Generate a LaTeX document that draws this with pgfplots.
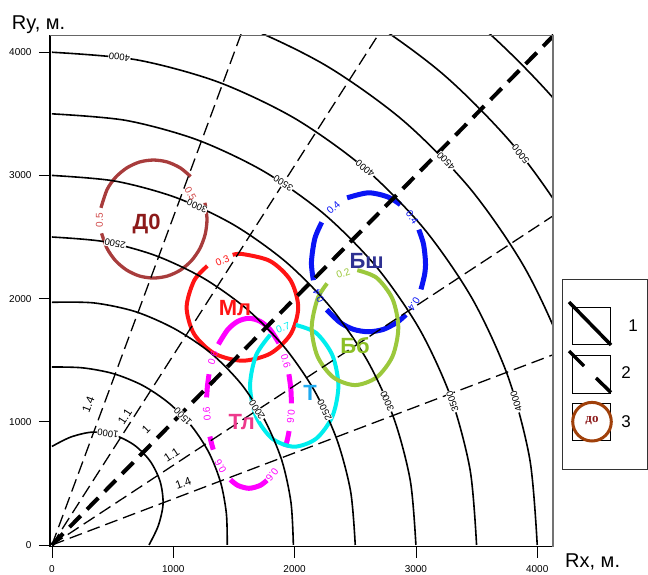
\documentclass[border=0pt]{standalone}
\usepackage{fontspec}
\setmainfont{Liberation Sans}
\newfontfamily\lserif{Liberation Serif}
\usepackage{pgfplots}
\pgfplotsset{compat=1.18}
\definecolor{cD}{HTML}{A83C3C}
\definecolor{cDt}{HTML}{8C1A1A}
\definecolor{cDl}{HTML}{D04848}
\definecolor{cM}{HTML}{FF1414}
\definecolor{cTl}{HTML}{FF00FF}
\definecolor{cTlt}{HTML}{EE3A8C}
\definecolor{cT}{HTML}{00EEEE}
\definecolor{cTt}{HTML}{1EAAF0}
\definecolor{cBsh}{HTML}{0A14F5}
\definecolor{cBsht}{HTML}{2E3192}
\definecolor{cBb}{HTML}{9BC83C}
\definecolor{cBbt}{HTML}{8CBF26}
\definecolor{legbrown}{HTML}{A0400A}
\tikzset{
  cont/.style={black, line width=1.6pt, smooth},
  ray/.style={black, line width=1.3pt, dash pattern=on 13pt off 6pt},
  clab/.style={fill=white, inner sep=0.5pt, font=\fontsize{9.5}{10}\selectfont},
  elab/.style={inner sep=0.5pt, font=\fontsize{10}{11}\selectfont},
  rlab/.style={inner sep=0.5pt, font=\fontsize{11.5}{12}\selectfont},
  big/.style={inner sep=0pt, font=\fontsize{22}{24}\selectfont\bfseries},
}
\begin{document}
\begin{tikzpicture}[x=1pt,y=1pt]
\useasboundingbox (-50,546.7) rectangle (598,-27.3);
\clip (-50,546.7) rectangle (598,-27.3);
\begin{axis}[
  anchor=south west,
  scale only axis, width=503pt, height=511.7pt,
  xmin=-16, xmax=4130, ymin=-14, ymax=4140,
  axis lines*=left,
  axis line style={black, line width=1.1pt},
  xtick={0,1000,2000,3000,4000}, xticklabels={0,1000,2000,3000,4000},
  ytick={0,1000,2000,3000,4000}, yticklabels={0,1000,2000,3000,4000},
  tick align=outside, major tick length=11pt,
  tick style={black, line width=0.8pt},
  ticklabel style={font=\fontsize{10}{11}\selectfont},
  xticklabel style={yshift=-4pt},
  yticklabel style={xshift=-4pt},
  clip=true,
]
% ---- coloured ellipses ----
% D0
\addplot[cD, line width=3.3pt, smooth] coordinates {(1143,2991) (1058,3061) (951,3109) (837,3125) (723,3109) (617,3061) (525,2985) (455,2886) (404,2737)};
\addplot[cD, line width=3.3pt, smooth] coordinates {(409,2530) (455,2406) (525,2307) (617,2231) (723,2183) (837,2167) (951,2183) (1058,2231) (1149,2307) (1219,2406) (1263,2522) (1278,2646) (1261,2778)};
% Ml
\addplot[cM, line width=4pt, smooth] coordinates {(1281,2265) (1172,2146) (1110,1929) (1172,1712) (1340,1554) (1570,1496) (1800,1554) (1968,1712) (2030,1929) (1968,2146) (1800,2304) (1570,2362) (1490,2355)};
% Tl
\addplot[cTl, line width=5pt, smooth] coordinates {(1871,1638) (1799,1748) (1715,1816) (1624,1840) (1533,1816) (1449,1748) (1372,1629)};
\addplot[cTl, line width=5pt, smooth] coordinates {(1295,1386) (1282,1293) (1275,1198)};
\addplot[cTl, line width=5pt, smooth] coordinates {(1302,880) (1315,826) (1330,774)};
\addplot[cTl, line width=5pt, smooth] coordinates {(1471,530) (1533,483) (1624,460) (1715,483) (1772,525)};
\addplot[cTl, line width=5pt, smooth] coordinates {(1924,795) (1941,858) (1955,925)};
\addplot[cTl, line width=5pt, smooth] coordinates {(1974,1150) (1969,1270) (1953,1386)};
% T
\addplot[cT, line width=4pt, smooth] coordinates {(1799,1706) (1682,1539) (1633,1292) (1682,1045) (1815,864) (1997,798) (2179,864) (2312,1045) (2361,1292) (2312,1539) (2179,1720) (2010,1786)};
% Bsh
\addplot[cBsh, line width=5pt, smooth] coordinates {(2872,2763) (2770,2825) (2609,2859) (2433,2818)};
\addplot[cBsh, line width=5pt, smooth] coordinates {(2224,2619) (2167,2488) (2139,2295) (2155,2149)};
\addplot[cBsh, line width=5pt, smooth] coordinates {(2265,1910) (2374,1807) (2487,1750) (2609,1731) (2731,1750) (2844,1807) (2917,1869)};
\addplot[cBsh, line width=5pt, smooth] coordinates {(3042,2075) (3072,2197) (3079,2295) (3063,2441) (3024,2560)};
% Bb
\addplot[cBb, line width=4pt, smooth] coordinates {(2268,2123) (2189,1998) (2141,1765) (2189,1531) (2319,1361) (2498,1298) (2676,1361) (2807,1531) (2855,1765) (2807,1998) (2676,2169) (2517,2231)};
% ---- contour arcs ----
\addplot[cont] coordinates {(800,0) (876,155) (916,333) (892,515) (810,680) (680,810) (515,892) (333,916) (155,876) (0,800)};
\addplot[cont] coordinates {(1445,0) (1438,253) (1391,506) (1295,748) (1151,965) (965,1151) (748,1295) (506,1391) (253,1438) (0,1445)};
\addplot[cont] coordinates {(1990,0) (1970,347) (1894,689) (1754,1013) (1559,1308) (1308,1559) (1013,1754) (689,1894) (346,1965) (0,1970)};
\addplot[cont] coordinates {(2500,0) (2462,434) (2349,855) (2165,1250) (1915,1607) (1607,1915) (1250,2165) (855,2349) (434,2462) (0,2500)};
\addplot[cont] coordinates {(3000,0) (2954,521) (2819,1026) (2598,1500) (2298,1928) (1928,2298) (1500,2598) (1026,2819) (521,2954) (0,3000)};
\addplot[cont] coordinates {(3500,0) (3447,608) (3289,1197) (3031,1750) (2681,2250) (2250,2681) (1750,3031) (1197,3289) (608,3447) (0,3500)};
\addplot[cont] coordinates {(4000,0) (3939,695) (3759,1368) (3464,2000) (3064,2571) (2571,3064) (2000,3464) (1368,3759) (695,3939) (0,4000)};
\addplot[cont] coordinates {(4500,0) (4432,781) (4229,1539) (3897,2250) (3447,2893) (2893,3447) (2250,3897) (1539,4229) (781,4432) (0,4500)};
\addplot[cont] coordinates {(5000,0) (4924,868) (4698,1710) (4330,2500) (3830,3214) (3214,3830) (2500,4330) (1710,4698) (868,4924) (0,5000)};
\addplot[cont] coordinates {(5500,0) (5416,955) (5168,1881) (4763,2750) (4213,3535) (3535,4213) (2750,4763) (1881,5168) (955,5416) (0,5500)};
% ---- rays ----
\addplot[ray] coordinates {(0,0) (2111,5617)};
\addplot[ray] coordinates {(0,0) (3268,5032)};
\addplot[ray] coordinates {(0,0) (5038,3259)};
\addplot[ray] coordinates {(0,0) (5620,2101)};
\addplot[black, line width=4pt, dash pattern=on 16pt off 9pt] coordinates {(0,0) (5000,5000)};
% ---- contour labels ----
\node[clab, rotate=172] at (axis cs:557,3961) {4000};
\node[clab, rotate=147] at (axis cs:1906,2935) {3500};
\node[clab, rotate=156] at (axis cs:1196,2751) {3000};
\node[clab, rotate=168] at (axis cs:520,2445) {2500};
\node[clab, rotate=123] at (axis cs:1690,1097) {2000};
\node[clab, rotate=134] at (axis cs:1079,1042) {1500};
\node[clab, rotate=172] at (axis cs:461,904) {1000};
\node[clab, rotate=116] at (axis cs:2247,1096) {2500};
\node[clab, rotate=113] at (axis cs:2763,1167) {3000};
\node[clab, rotate=109] at (axis cs:3301,1163) {3500};
\node[clab, rotate=107] at (axis cs:3827,1163) {4000};
\node[clab, rotate=140] at (axis cs:2581,3055) {4000};
\node[clab, rotate=134] at (axis cs:3248,3115) {4500};
\node[clab, rotate=129] at (axis cs:3863,3173) {5000};
% ---- ray labels ----
\node[rlab, rotate=69] at (axis cs:300,1136) {1.4};
\node[rlab, rotate=57] at (axis cs:602,1041) {1.1};
\node[rlab, rotate=45] at (axis cs:775,939) {1};
\node[rlab, rotate=33] at (axis cs:987,730) {1.1};
\node[rlab, rotate=20] at (axis cs:1083,501) {1.4};
% ---- ellipse value labels ----
\node[elab, text=cDl, rotate=90] at (axis cs:392,2636) {0.5};
\node[elab, text=cDl, rotate=-60] at (axis cs:1142,2850) {0.5};
\node[elab, text=cM, rotate=23] at (axis cs:1405,2305) {0.3};
\node[elab, text=cTl, rotate=-74] at (axis cs:1927,1495) {0.6};
\node[elab, text=cTl, rotate=72] at (axis cs:1327,1516) {0.6};
\node[elab, text=cTl, rotate=94] at (axis cs:1277,1066) {0.6};
\node[elab, text=cTl, rotate=119] at (axis cs:1390,637) {0.6};
\node[elab, text=cTl, rotate=-128] at (axis cs:1815,571) {0.6};
\node[elab, text=cTl, rotate=-95] at (axis cs:1970,1042) {0.6};
\node[elab, text=cT, rotate=20] at (axis cs:1905,1760) {0.7};
\node[elab, text=cBsh, rotate=43] at (axis cs:2320,2739) {0.4};
\node[elab, text=cBsh, rotate=115] at (axis cs:2198,2022) {0.4};
\node[elab, text=cBsh, rotate=-122] at (axis cs:2984,1956) {0.4};
\node[elab, text=cBsh, rotate=-55] at (axis cs:2969,2658) {0.4};
\node[elab, text=cBb, rotate=20] at (axis cs:2400,2205) {0.2};
% ---- ellipse names ----
\node[big, text=cDt] at (axis cs:781,2606) {Д0};
\node[big, text=cM] at (axis cs:1509,1921) {Мл};
\node[big, text=cTlt] at (axis cs:1564,994) {Тл};
\node[big, text=cTt] at (axis cs:2127,1231) {Т};
\node[big, text=cBsht] at (axis cs:2594,2309) {Бш};
\node[big, text=cBbt] at (axis cs:2498,1617) {Бб};
\end{axis}
% frame top / right
\draw[black!60, line width=0.9pt] (0,511.7) -- (503,511.7);
\draw[black!55, line width=2.2pt] (503,511.7) -- (503,0);
% axis titles
\node[anchor=base west, inner sep=0pt, font=\fontsize{20}{22}\selectfont] at (-38.3,517.2) {Ry, м.};
\node[anchor=base west, inner sep=0pt, font=\fontsize{20}{22}\selectfont] at (515,-20.8) {Rx, м.};
% legend
\draw[black!80, line width=0.8pt] (512.3,267.4) rectangle (597,77.4);
\draw[black, line width=0.7pt] (522.3,239.4) rectangle (560,202.7);
\draw[black, line width=3.5pt] (519,244.7) -- (561,201.7);
\draw[black, line width=0.7pt] (522.3,191.7) rectangle (560,153.4);
\draw[black, line width=3.5pt] (519,195.7) -- (534,180.7);
\draw[black, line width=3.5pt] (546,168.7) -- (561,154.2);
\draw[black, line width=0.7pt] (522.3,143.4) rectangle (560,106.7);
\draw[legbrown, line width=3pt, fill=white] (542,125) circle (19.3);
\node[text=cDt, font=\lserif\bfseries\fontsize{13}{14}\selectfont, inner sep=0pt] at (542,125.7) {до};
\node[font=\fontsize{17}{18}\selectfont, inner sep=0pt] at (583,220.7) {1};
\node[font=\fontsize{17}{18}\selectfont, inner sep=0pt] at (576,173.7) {2};
\node[font=\fontsize{17}{18}\selectfont, inner sep=0pt] at (576,124.7) {3};
\end{tikzpicture}
\end{document}
